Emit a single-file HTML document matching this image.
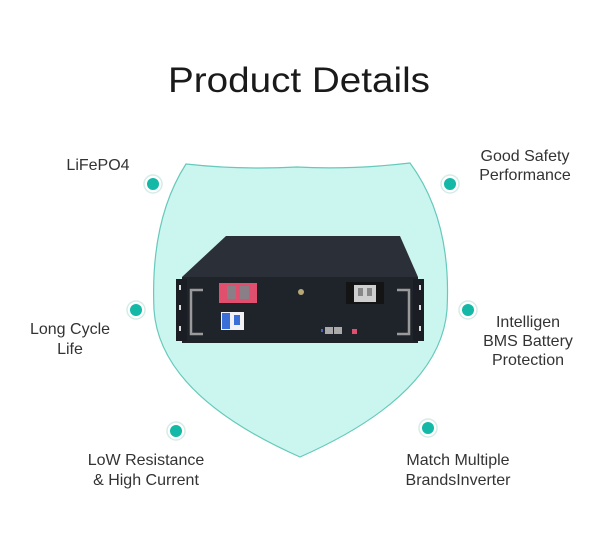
<!DOCTYPE html>
<html><head><meta charset="utf-8"><style>
html,body{margin:0;padding:0;background:#fff;}
svg{display:block;}
text{font-family:"Liberation Sans",sans-serif;}
</style></head><body>
<svg width="600" height="550" viewBox="0 0 600 550" xmlns="http://www.w3.org/2000/svg">
<rect width="600" height="550" fill="#fff"/>
<text x="299" y="92" font-size="35" fill="#1a1a1a" text-anchor="middle" textLength="262" lengthAdjust="spacingAndGlyphs">Product Details</text>
<!-- shield -->
<path d="M186,164 Q240,170 297,167 Q350,170 410,163 Q452,220 447,310 Q440,395 300,457 Q160,395 154,310 Q150,220 186,164 Z" fill="#cbf6ef" stroke="#66c9bb" stroke-width="1.2"/>
<!-- battery top -->
<polygon points="226,236 400,236 418,277 182,277" fill="#2b3038"/>
<!-- front panel -->
<rect x="182" y="277" width="236" height="66" fill="#1f242b"/>
<rect x="176" y="279" width="11" height="62" fill="#1a1e24"/>
<rect x="413" y="279" width="11" height="62" fill="#1a1e24"/>
<rect x="179" y="285" width="2" height="5" fill="#ddd"/><rect x="179" y="305" width="2" height="5" fill="#ddd"/><rect x="179" y="326" width="2" height="5" fill="#ddd"/>
<rect x="419" y="285" width="2" height="5" fill="#ddd"/><rect x="419" y="305" width="2" height="5" fill="#ddd"/><rect x="419" y="326" width="2" height="5" fill="#ddd"/>
<!-- handles -->
<path d="M203,290 L191,290 L191,334 L203,334" fill="none" stroke="#9a9a9a" stroke-width="2.5"/>
<path d="M397,290 L409,290 L409,334 L397,334" fill="none" stroke="#9a9a9a" stroke-width="2.5"/>
<!-- pink terminal -->
<rect x="219" y="283" width="38" height="20" fill="#e0506e"/>
<rect x="227" y="286" width="9" height="13" fill="#8a7f86"/><rect x="240" y="286" width="9" height="13" fill="#8a7f86"/>
<!-- breaker -->
<rect x="221" y="312" width="23" height="18" fill="#f2f2f6"/>
<rect x="222" y="313" width="8" height="16" fill="#3a6fd8"/><rect x="234" y="315" width="6" height="10" fill="#3a6fd8"/>
<!-- bolt -->
<circle cx="301" cy="292" r="3" fill="#b8a878"/>
<!-- right terminal -->
<rect x="346" y="282" width="38" height="22" fill="#141414"/>
<rect x="354" y="285" width="22" height="17" fill="#cfcfcf"/>
<rect x="358" y="288" width="5" height="8" fill="#888"/><rect x="367" y="288" width="5" height="8" fill="#888"/>
<!-- ports -->
<rect x="325" y="327" width="8" height="7" fill="#aaa"/><rect x="334" y="327" width="8" height="7" fill="#aaa"/>
<rect x="352" y="329" width="5" height="5" fill="#e0506e"/>
<rect x="321" y="329" width="2" height="3" fill="#4466cc"/>
<!-- dots -->
<g>
<circle cx="153" cy="184" r="9" fill="#fff" stroke="#d6ece8" stroke-width="1.5"/><circle cx="153" cy="184" r="6" fill="#14b8a6"/>
<circle cx="450" cy="184" r="9" fill="#fff" stroke="#d6ece8" stroke-width="1.5"/><circle cx="450" cy="184" r="6" fill="#14b8a6"/>
<circle cx="136" cy="310" r="9" fill="#fff" stroke="#d6ece8" stroke-width="1.5"/><circle cx="136" cy="310" r="6" fill="#14b8a6"/>
<circle cx="468" cy="310" r="9" fill="#fff" stroke="#d6ece8" stroke-width="1.5"/><circle cx="468" cy="310" r="6" fill="#14b8a6"/>
<circle cx="176" cy="431" r="9" fill="#fff" stroke="#d6ece8" stroke-width="1.5"/><circle cx="176" cy="431" r="6" fill="#14b8a6"/>
<circle cx="428" cy="428" r="9" fill="#fff" stroke="#d6ece8" stroke-width="1.5"/><circle cx="428" cy="428" r="6" fill="#14b8a6"/>
</g>
<g font-size="16" fill="#333" text-anchor="middle">
<text x="98" y="170">LiFePO4</text>
<text x="525" y="161">Good Safety</text>
<text x="525" y="180">Performance</text>
<text x="70" y="334">Long Cycle</text>
<text x="70" y="354">Life</text>
<text x="528" y="327">Intelligen</text>
<text x="528" y="346">BMS Battery</text>
<text x="528" y="365">Protection</text>
<text x="146" y="465">LoW Resistance</text>
<text x="146" y="485">&amp; High Current</text>
<text x="458" y="465">Match Multiple</text>
<text x="458" y="485">BrandsInverter</text>
</g>
</svg>
</body></html>
